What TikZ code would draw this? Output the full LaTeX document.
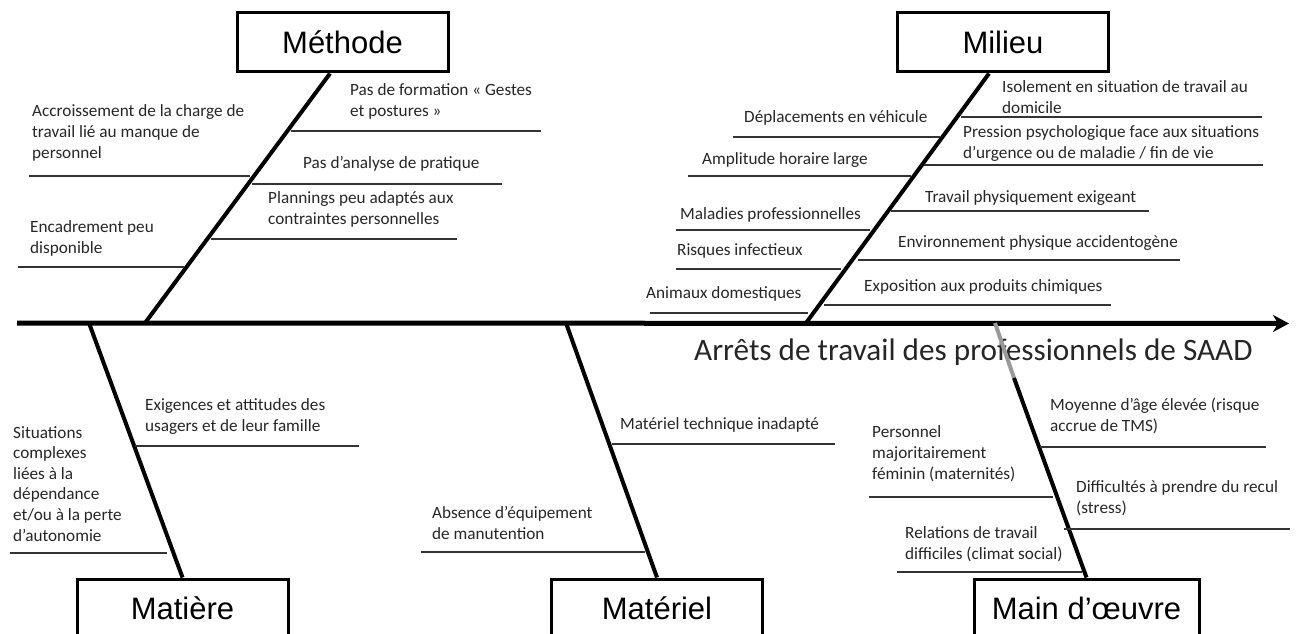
\documentclass[tikz,border=0pt]{standalone}
\usepackage{fontspec}
\setmainfont{Carlito}
\newfontfamily\boxfont{Liberation Sans}
\usetikzlibrary{arrows.meta,calc}
\begin{document}
\begin{tikzpicture}[x=1pt,y=-1pt,
  lbl/.style={font=\fontsize{17.2}{20.6}\selectfont, text=black!85, inner sep=0pt, align=left, anchor=base west},
  catbox/.style={draw, line width=3pt, minimum width=211pt, minimum height=59pt, font=\boxfont\fontsize{31}{36}\selectfont, inner sep=0pt},
  bone/.style={line width=4pt},
  sub/.style={line width=1.2pt, draw=black!80}]
\useasboundingbox (0,0) rectangle (1298,634);
% category boxes
\node[catbox] (meth) at (342.5,42.5) {Méthode};
\node[catbox] (mil) at (1003,42.5) {Milieu};
\node[catbox] (mat) at (182.5,608.5) {Matière};
\node[catbox] (matl) at (657,608.5) {Matériel};
\node[catbox, minimum width=225pt] (mo) at (1086.5,608.5) {Main d’œuvre};
% axis
\coordinate (axL) at (17,323);
\coordinate (axR) at (1289,323.5);
\coordinate (bMeth) at (145,323);
\coordinate (bMil) at (806,323);
\coordinate (bMat) at (89,323);
\coordinate (bMatl) at (566,323);
\coordinate (bMo) at (995,323);
\coordinate (bMoG) at (1014,378);
\draw[line width=5pt, -{Stealth[length=16pt,width=17pt,inset=5pt]}] (axL) -- (axR);
% bones
\draw[bone] ($(meth.south)+(-12.5,0)$) -- (bMeth);
\draw[bone] ($(mil.south)+(-14,0)$) -- (bMil);
\draw[bone] (bMat) -- (mat.north);
\draw[bone] (bMatl) -- (matl.north);
% title
\node[font=\fontsize{31.2}{36}\selectfont, text=black!85, inner sep=0pt, anchor=west] (title) at (694,352) {Arrêts de travail des professionnels de SAAD};
\draw[bone, draw=black!40] (bMo) -- (bMoG);
\draw[bone] (bMoG) -- (mo.north);
% Méthode
\node[lbl] (m1) at (350,116) {Pas de formation « Gestes\\et postures »};
\draw[sub] (291,131) -- (541,131);
\node[lbl] (m2) at (32,158) {Accroissement de la charge de\\travail lié au manque de\\personnel};
\draw[sub] (29,176) -- (250,176);
\node[lbl] (m3) at (303,168) {Pas d’analyse de pratique};
\draw[sub] (252,184) -- (502,184);
\node[lbl] (m4) at (268,224) {Plannings peu adaptés aux\\contraintes personnelles};
\draw[sub] (211,239) -- (457,239);
\node[lbl] (m5) at (30,253) {Encadrement peu\\disponible};
\draw[sub] (18,267) -- (184,267);
% Milieu
\node[lbl] (e1) at (1002,113) {Isolement en situation de travail au\\domicile};
\draw[sub] (961,117) -- (1262,117);
\node[lbl] (e2) at (744,122) {Déplacements en véhicule};
\draw[sub] (733,137) -- (940,137);
\node[lbl] (e3) at (963,158) {Pression psychologique face aux situations\\d’urgence ou de maladie / fin de vie};
\draw[sub] (924,165) -- (1263,165);
\node[lbl] (e4) at (702,164) {Amplitude horaire large};
\draw[sub] (688,176) -- (911,176);
\node[lbl] (e5) at (925,202) {Travail physiquement exigeant};
\draw[sub] (891,211) -- (1149,211);
\node[lbl] (e6) at (680,219) {Maladies professionnelles};
\draw[sub] (676,230) -- (870,230);
\node[lbl] (e7) at (898,247) {Environnement physique accidentogène};
\draw[sub] (858,260) -- (1180,260);
\node[lbl] (e8) at (677,255) {Risques infectieux};
\draw[sub] (676,269) -- (841,269);
\node[lbl] (e9) at (864,291) {Exposition aux produits chimiques};
\draw[sub] (824,305) -- (1111,305);
\node[lbl] (e10) at (646,298) {Animaux domestiques};
\draw[sub] (650,313) -- (808,313);
% Matière
\node[lbl] (a1) at (145,431) {Exigences et attitudes des\\usagers et de leur famille};
\draw[sub] (135,446) -- (359,446);
\node[lbl] (a2) at (13,541) {Situations\\complexes\\liées à la\\dépendance\\et/ou à la perte\\d’autonomie};
\draw[sub] (10,553) -- (167,553);
% Matériel
\node[lbl] (t1) at (620,429) {Matériel technique inadapté};
\draw[sub] (612,444) -- (835,444);
\node[lbl] (t2) at (432,539) {Absence d’équipement\\de manutention};
\draw[sub] (421,552) -- (645,552);
% Main d'oeuvre
\node[lbl] (o1) at (1050,431) {Moyenne d’âge élevée (risque\\accrue de TMS)};
\draw[sub] (1040,447) -- (1266,447);
\node[lbl] (o2) at (872,479) {Personnel\\majoritairement\\féminin (maternités)};
\draw[sub] (869,497) -- (1053,497);
\node[lbl] (o3) at (1076,513) {Difficultés à prendre du recul\\(stress)};
\draw[sub] (1064,529) -- (1290,529);
\node[lbl] (o4) at (905,559) {Relations de travail\\difficiles (climat social)};
\draw[sub] (897,572) -- (1082,572);
\end{tikzpicture}
\end{document}
